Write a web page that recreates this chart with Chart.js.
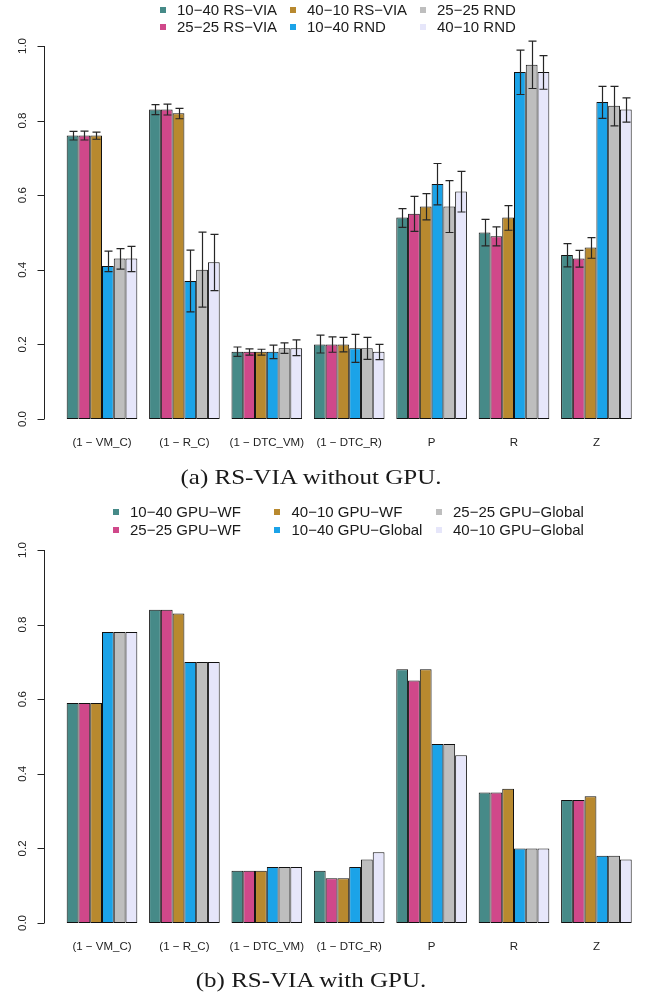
<!DOCTYPE html>
<html>
<head>
<meta charset="utf-8">
<title>RS-VIA</title>
<script src="https://cdn.jsdelivr.net/npm/chart.js@4.4.1/dist/chart.umd.min.js"></script>
<style>
  html, body { margin: 0; padding: 0; background: #fff; }
  body { position: relative; width: 646px; height: 996px; overflow: hidden; font-family: "Liberation Sans", Arial, sans-serif; color: #1a1a1a; }
  canvas { position: absolute; left: 0; }
  #chartA { top: 0; }
  #chartB { top: 504px; }
  .key { position: absolute; font-size: 15px; line-height: 18px; white-space: nowrap; z-index: 2; }
  .key i { position: absolute; width: 6px; height: 6px; left: -17.5px; top: 5.8px; }
  .caption { position: absolute; left: 311px; font-family: "Liberation Serif", serif; font-size: 21px; line-height: 24px; white-space: nowrap; transform: translateX(-50%) scaleX(1.19); }
</style>
</head>
<body>
<canvas id="chartA" width="646" height="470"></canvas>
<canvas id="chartB" width="646" height="470"></canvas>
<div id="legendA"></div>
<div id="legendB"></div>
<div class="caption" style="top:465px">(a) RS-VIA without GPU.</div>
<div class="caption" style="top:968px">(b) RS-VIA with GPU.</div>
<script>
const categories = ['(1 − VM_C)', '(1 − R_C)', '(1 − DTC_VM)', '(1 − DTC_R)', 'P', 'R', 'Z'];
const yTicks = [0, 0.2, 0.4, 0.6, 0.8, 1];
const yTickLabels = ['0.0', '0.2', '0.4', '0.6', '0.8', '1.0'];
const colors = ['#468a88', '#d0488a', '#b8892f', '#1ba3e8', '#bebebe', '#e6e6fa'];

// (a) without GPU: bar height, then bottom and top of the error bar
const labelsA = ['10−40 RS−VIA', '25−25 RS−VIA', '40−10 RS−VIA', '10−40 RND', '25−25 RND', '40−10 RND'];
const via1040 = [0.76, 0.83, 0.18, 0.20, 0.54, 0.50, 0.44];
const via1040Lo = [0.748, 0.816, 0.168, 0.177, 0.514, 0.464, 0.408];
const via1040Hi = [0.771, 0.843, 0.193, 0.225, 0.564, 0.535, 0.470];
const via2525 = [0.76, 0.83, 0.18, 0.20, 0.55, 0.49, 0.43];
const via2525Lo = [0.748, 0.815, 0.171, 0.179, 0.503, 0.464, 0.407];
const via2525Hi = [0.772, 0.844, 0.188, 0.220, 0.597, 0.515, 0.452];
const via4010 = [0.76, 0.82, 0.18, 0.20, 0.57, 0.54, 0.46];
const via4010Lo = [0.750, 0.805, 0.171, 0.180, 0.534, 0.506, 0.431];
const via4010Hi = [0.769, 0.833, 0.187, 0.219, 0.604, 0.572, 0.486];
const rnd1040 = [0.41, 0.37, 0.18, 0.19, 0.63, 0.93, 0.85];
const rnd1040Lo = [0.395, 0.287, 0.162, 0.152, 0.574, 0.870, 0.806];
const rnd1040Hi = [0.450, 0.453, 0.198, 0.227, 0.685, 0.989, 0.892];
const rnd2525 = [0.43, 0.40, 0.19, 0.19, 0.57, 0.95, 0.84];
const rnd2525Lo = [0.402, 0.300, 0.176, 0.160, 0.500, 0.886, 0.786];
const rnd2525Hi = [0.457, 0.501, 0.204, 0.219, 0.639, 1.013, 0.892];
const rnd4010 = [0.43, 0.42, 0.19, 0.18, 0.61, 0.93, 0.83];
const rnd4010Lo = [0.395, 0.344, 0.170, 0.159, 0.555, 0.884, 0.796];
const rnd4010Hi = [0.463, 0.495, 0.212, 0.200, 0.664, 0.974, 0.861];

// (b) with GPU
const labelsB = ['10−40 GPU−WF', '25−25 GPU−WF', '40−10 GPU−WF', '10−40 GPU−Global', '25−25 GPU−Global', '40−10 GPU−Global'];
const wf1040 = [0.59, 0.84, 0.14, 0.14, 0.68, 0.35, 0.33];
const wf2525 = [0.59, 0.84, 0.14, 0.12, 0.65, 0.35, 0.33];
const wf4010 = [0.59, 0.83, 0.14, 0.12, 0.68, 0.36, 0.34];
const glob1040 = [0.78, 0.70, 0.15, 0.15, 0.48, 0.20, 0.18];
const glob2525 = [0.78, 0.70, 0.15, 0.17, 0.48, 0.20, 0.18];
const glob4010 = [0.78, 0.70, 0.15, 0.19, 0.45, 0.20, 0.17];

Chart.defaults.font.family = '"Liberation Sans", Arial, sans-serif';
Chart.defaults.color = '#222';

// R style y axis, detached from the bars
const leftAxis = {
  id: 'leftAxis',
  afterDraw(chart) {
    const ctx = chart.ctx;
    const y = chart.scales.y;
    const ax = 44.5;
    ctx.save();
    ctx.strokeStyle = '#222';
    ctx.lineWidth = 1;
    ctx.beginPath();
    ctx.moveTo(ax, y.getPixelForValue(yTicks[0]));
    ctx.lineTo(ax, y.getPixelForValue(yTicks[yTicks.length - 1]));
    yTicks.forEach(t => {
      const py = Math.round(y.getPixelForValue(t)) + 0.5;
      ctx.moveTo(ax, py);
      ctx.lineTo(ax - 7, py);
    });
    ctx.stroke();
    ctx.restore();
  }
};

const errorBars = {
  id: 'errorBars',
  afterDatasetsDraw(chart) {
    const ctx = chart.ctx;
    const y = chart.scales.y;
    ctx.save();
    ctx.strokeStyle = '#262626';
    ctx.lineWidth = 1.2;
    chart.data.datasets.forEach((ds, d) => {
      if (!ds.errLow) return;
      chart.getDatasetMeta(d).data.forEach((bar, i) => {
        const x = Math.round(bar.x) + 0.5;
        const y1 = y.getPixelForValue(ds.errLow[i]);
        const y2 = y.getPixelForValue(ds.errHigh[i]);
        ctx.beginPath();
        ctx.moveTo(x, y1); ctx.lineTo(x, y2);
        ctx.moveTo(x - 4, y1); ctx.lineTo(x + 4, y1);
        ctx.moveTo(x - 4, y2); ctx.lineTo(x + 4, y2);
        ctx.stroke();
      });
    });
    ctx.restore();
  }
};

function makeChart(id, labels, series, lows, highs) {
  const datasets = series.map((data, k) => ({
    label: labels[k],
    data: data,
    backgroundColor: colors[k],
    borderColor: '#111',
    borderWidth: 1,
    borderSkipped: false,
    categoryPercentage: 6 / 7,
    barPercentage: 1,
    errLow: lows ? lows[k] : null,
    errHigh: highs ? highs[k] : null
  }));
  return new Chart(document.getElementById(id), {
    type: 'bar',
    data: { labels: categories, datasets: datasets },
    plugins: [leftAxis, errorBars],
    options: {
      responsive: false,
      animation: false,
      layout: { padding: { top: 46, right: 8.4, bottom: 21, left: 0 } },
      plugins: { legend: { display: false }, tooltip: { enabled: false } },
      scales: {
        x: {
          grid: { display: false, drawTicks: false },
          border: { display: false },
          ticks: { padding: 16.5, maxRotation: 0, autoSkip: false, color: '#222', font: { size: 11.5 } },
          afterFit: s => { s.height = 30; }
        },
        y: {
          min: 0,
          max: 1,
          afterBuildTicks: s => { s.ticks = yTicks.map(v => ({ value: v })); },
          afterFit: s => { s.width = 60.8; },
          grid: { display: false, drawTicks: false },
          border: { display: false },
          ticks: {
            minRotation: 90, maxRotation: 90, crossAlign: 'center', padding: 30,
            color: '#222', font: { size: 11.5 },
            callback: (v, i) => yTickLabels[i]
          }
        }
      }
    }
  });
}

function makeLegend(id, labels, colX, rowY) {
  const box = document.getElementById(id);
  labels.forEach((text, k) => {
    const col = Math.floor(k / 2), row = k % 2;
    const item = document.createElement('div');
    item.className = 'key';
    item.style.left = colX[col] + 'px';
    item.style.top = (rowY[row] - 8.8) + 'px';
    const sw = document.createElement('i');
    sw.style.background = colors[k];
    item.appendChild(sw);
    item.appendChild(document.createTextNode(text));
    box.appendChild(item);
  });
}

makeChart('chartA', labelsA,
  [via1040, via2525, via4010, rnd1040, rnd2525, rnd4010],
  [via1040Lo, via2525Lo, via4010Lo, rnd1040Lo, rnd2525Lo, rnd4010Lo],
  [via1040Hi, via2525Hi, via4010Hi, rnd1040Hi, rnd2525Hi, rnd4010Hi]);
makeChart('chartB', labelsB, [wf1040, wf2525, wf4010, glob1040, glob2525, glob4010]);

makeLegend('legendA', labelsA, [177, 307, 437], [10, 26.7]);
makeLegend('legendB', labelsB, [130, 291.5, 453], [511.7, 530]);
</script>
</body>
</html>
